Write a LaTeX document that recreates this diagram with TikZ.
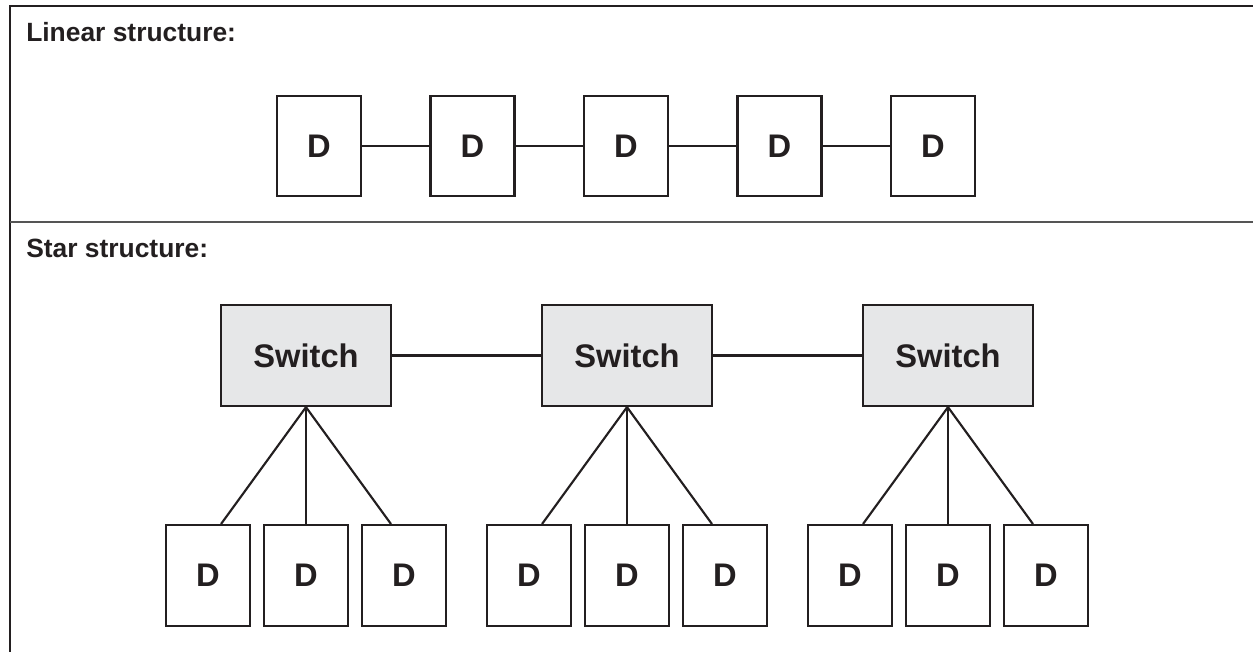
\documentclass[tikz,border=0pt]{standalone}
\usepackage{fontspec}
\setmainfont{Liberation Sans}
\usetikzlibrary{calc}
\definecolor{ink}{HTML}{231F20}
\definecolor{rule}{HTML}{555555}
\definecolor{swfill}{HTML}{E6E7E8}
\tikzset{
  dev/.style={draw=ink, line width=1.7pt, fill=white, minimum width=63pt, minimum height=75.5pt,
    inner sep=0pt, font=\fontsize{24.5}{28}\selectfont\bfseries, text=ink},
  switchbox/.style={draw=ink, line width=1.7pt, fill=swfill, minimum width=127.5pt, minimum height=75.75pt,
    inner sep=0pt, font=\fontsize{24.5}{28}\selectfont\bfseries, text=ink},
  link/.style={draw=ink, line width=1.6pt},
  heading/.style={anchor=base west, inner sep=0pt, font=\fontsize{19.8}{23}\selectfont\bfseries, text=ink},
}
\begin{document}
\begin{tikzpicture}[x=0.75pt, y=-0.75pt]
  \useasboundingbox (0,0) rectangle (1253,652);
  % frame of the two panels
  \draw[ink, line width=1.6pt] (1253,6) -- (10,6) -- (10,652);
  \draw[rule, line width=1.6pt] (10,222) -- (1253,222);

  % linear structure
  \node[heading] (hlin) at (26,42) {Linear structure:};
  \foreach \i/\x in {1/319, 2/472.5, 3/626, 4/779.5, 5/933}
    \node[dev] (l\i) at (\x,146) {D};
  \foreach \a/\b in {1/2, 2/3, 3/4, 4/5}
    \draw[link] (l\a) -- (l\b);

  % star structure
  \node[heading] (hstar) at (26,258) {Star structure:};
  \foreach \s/\x in {1/306, 2/627, 3/948}{
    \node[switchbox] (s\s) at (\x,355.5) {Switch};
    \node[dev] (d\s a) at (\x-98,575.5) {D};
    \node[dev] (d\s b) at (\x,575.5) {D};
    \node[dev] (d\s c) at (\x+98,575.5) {D};
    \draw[link] (s\s.south) -- ($(d\s a.north)+(13,0)$);
    \draw[link] (s\s.south) -- (d\s b.north);
    \draw[link] (s\s.south) -- ($(d\s c.north)+(-13,0)$);
  }
  \draw[link] (s1) -- (s2);
  \draw[link] (s2) -- (s3);
\end{tikzpicture}
\end{document}
